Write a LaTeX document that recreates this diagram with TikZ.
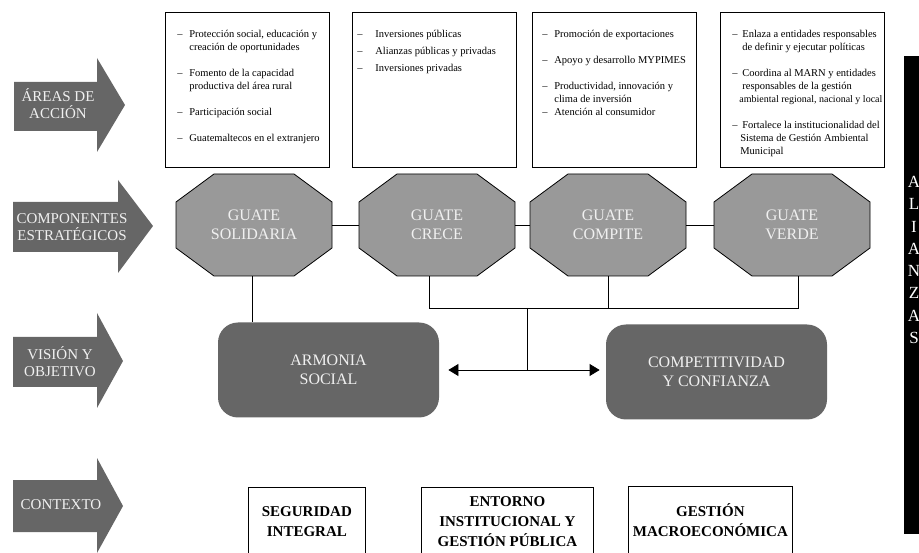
\documentclass[tikz,border=0pt]{standalone}
\usepackage{fontspec}
\setmainfont{Liberation Serif}
\usetikzlibrary{arrows.meta,positioning}
\definecolor{armgray}{HTML}{666666}
\definecolor{octgray}{HTML}{999999}
\definecolor{paletext}{HTML}{F0F0F0}

\tikzset{
  armtext/.style={text=paletext, align=center, inner sep=0,
    font=\fontsize{15}{17}\selectfont},
  octfill/.style={fill=octgray, draw=black},
  octtext/.style={minimum width=156pt, minimum height=102pt, inner sep=0,
    text=paletext, align=center, font=\fontsize{16}{19}\selectfont},
  vision/.style={rounded corners=20pt, fill=armgray, text=paletext,
    minimum width=221pt, minimum height=95pt, align=center,
    font=\fontsize{16}{19}\selectfont},
  listbox/.style={draw=black, fill=white, minimum width=164pt,
    minimum height=155pt, anchor=north west, inner sep=0},
  listtext/.style={anchor=base west, inner sep=0,
    font=\fontsize{10.5}{13}\selectfont},
  ctxbox/.style={draw=black, anchor=north west, minimum height=68pt,
    align=center, font=\bfseries\fontsize{15}{20}\selectfont},
  tip/.style={{Triangle[length=10pt,width=12pt]}-{Triangle[length=10pt,width=12pt]}}
}

\begin{document}
\begin{tikzpicture}[x=1pt,y=-1pt,line width=0.8pt]
\clip (0,0) rectangle (919,553);

% flechas de la izquierda
\fill [armgray] (14,82) -- (97,82) -- (97,58) -- (125,105) -- (97,152) -- (97,131) -- (14,131) -- cycle;
\fill [armgray] (13,202) -- (118,202) -- (118,180) -- (153,226) -- (118,273) -- (118,252) -- (13,252) -- cycle;
\fill [armgray] (13,337) -- (97,337) -- (97,313) -- (123,361) -- (97,408) -- (97,387) -- (13,387) -- cycle;
\fill [armgray] (13,480) -- (97,480) -- (97,458) -- (123,506) -- (97,553) -- (97,532) -- (13,532) -- cycle;
\node [armtext] (areas) at (58,104) {ÁREAS DE\\ACCIÓN};
\node [armtext] (compo) at (72,227) {COMPONENTES\\ESTRATÉGICOS};
\node [armtext] (visio) at (60,362) {VISIÓN Y\\OBJETIVO};
\node [armtext] (conte) at (61,505) {CONTEXTO};

% areas de accion
\node [listbox] (box1) at (165,12) {};
\node [listbox] (box2) at (352,12) {};
\node [listbox] (box3) at (532,12) {};
\node [listbox] (box4) at (720,12) {};
\node [listtext] (lst1) at (177,38) {\begin{tabular}[t]{@{}p{12pt}@{}l@{}}
–&Protección social, educación y\\ &creación de oportunidades\\[13pt]
–&Fomento de la capacidad\\ &productiva del área rural\\[13pt]
–&Participación social\\[13pt]
–&Guatemaltecos en el extranjero
\end{tabular}};
\node [listtext] (lst2) at (357,38) {\begin{tabular}[t]{@{}p{18pt}@{}l@{}}
–&Inversiones públicas\\[4pt]
–&Alianzas públicas y privadas\\[4pt]
–&Inversiones privadas
\end{tabular}};
\node [listtext] (lst3) at (542,38) {\begin{tabular}[t]{@{}p{12pt}@{}l@{}}
–&Promoción de exportaciones\\[13pt]
–&Apoyo y desarrollo MYPIMES\\[13pt]
–&Productividad, innovación y\\ &clima de inversión\\
–&Atención al consumidor
\end{tabular}};
\node [listtext] (lst4) at (732,38) {\begin{tabular}[t]{@{}p{10pt}@{}l@{}}
–&Enlaza a entidades responsables\\ &de definir y ejecutar políticas\\[13pt]
–&Coordina al MARN y entidades\\ &responsables de la gestión\\
\multicolumn{2}{@{}l@{}}{\hspace{7pt}\fontsize{10}{13}\selectfont ambiental regional, nacional y local}\\[13pt]
–&Fortalece la institucionalidad del\\
\multicolumn{2}{@{}l@{}}{\hspace{8pt}Sistema de Gestión Ambiental}\\
\multicolumn{2}{@{}l@{}}{\hspace{8pt}Municipal}
\end{tabular}};

% componentes estrategicos
\foreach \nm/\cx/\txt in {sol/254/{GUATE\\SOLIDARIA}, cre/437/{GUATE\\CRECE},
                          cmp/608/{GUATE\\COMPITE}, ver/792/{GUATE\\VERDE}}{
  \draw [octfill] (\cx,225) ++(-40,-51) -- ++(80,0) -- ++(38,28) -- ++(0,46)
        -- ++(-38,28) -- ++(-80,0) -- ++(-38,-28) -- ++(0,-46) -- cycle;
  \node [octtext] (\nm) at (\cx,225) {\txt};
}
\draw (sol.east) -- (cre.west);
\draw (cre.east) -- (cmp.west);
\draw (cmp.east) -- (ver.west);

% vision y objetivo
\node [vision] (arm) at (328.5,370) {ARMONIA\\SOCIAL};
\node [vision] (cpt) at (716.5,372) {COMPETITIVIDAD\\Y CONFIANZA};
\coordinate (bus) at (527,308);
\draw ([xshift=-2pt]sol.south) -- ([xshift=-2pt]sol.south |- arm.north);
\draw ([xshift=-8pt]cre.south) |- ([xshift=6pt]ver.south |- bus) -- ([xshift=6pt]ver.south);
\draw (cmp.south) -- (cmp.south |- bus);
\draw (bus) -- (bus |- arm.east);
\draw [tip, shorten <=9pt, shorten >=6pt] (arm.east) -- (arm.east -| cpt.west);

% contexto
\node [ctxbox, minimum width=117pt] (seg) at (248,487) {SEGURIDAD\\INTEGRAL};
\node [ctxbox, minimum width=172pt] (ent) at (421,487) {ENTORNO\\INSTITUCIONAL Y\\GESTIÓN PÚBLICA};
\node [ctxbox, minimum width=164pt] (ges) at (628,486) {GESTIÓN\\MACROECONÓMICA};

% barra derecha
\fill (904,56) rectangle (925,534);
\node [text=white, align=center, inner sep=0, font=\fontsize{17}{22.3}\selectfont] (ali) at (914,260) {A\\L\\I\\A\\N\\Z\\A\\S};
\end{tikzpicture}
\end{document}
